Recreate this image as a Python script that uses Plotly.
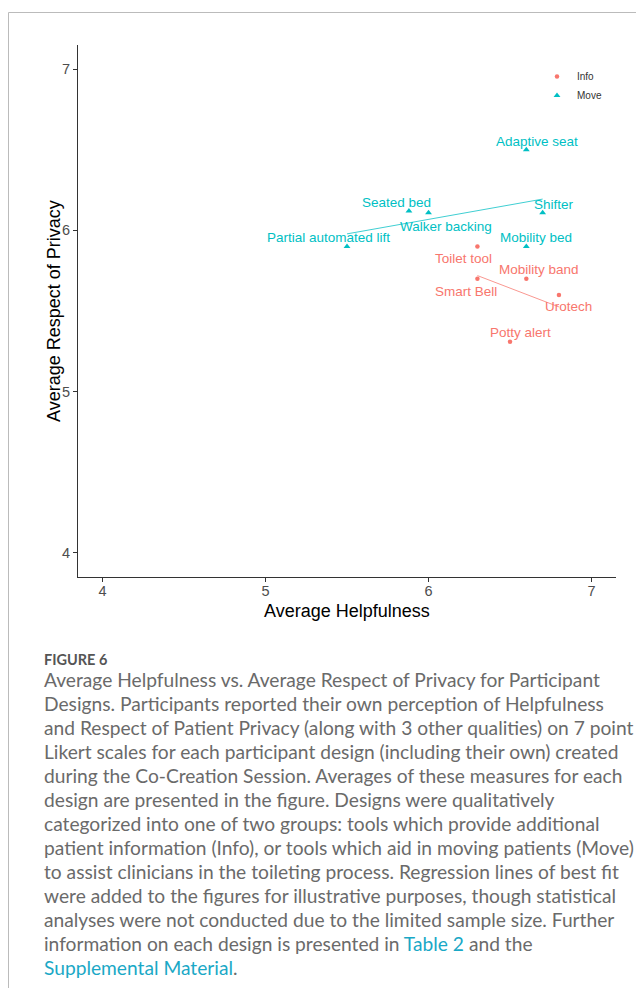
import numpy as np
import plotly.graph_objects as go

# ---------------- data ----------------
info_names = ["Toilet tool", "Smart Bell", "Mobility band", "Urotech", "Potty alert"]
info_help = [6.3, 6.3, 6.6, 6.8, 6.5]
info_priv = [5.9, 5.7, 5.7, 5.6, 5.31]

move_names = ["Adaptive seat", "Seated bed", "Walker backing", "Shifter",
              "Partial automated lift", "Mobility bed"]
move_help = [6.6, 5.88, 6.0, 6.7, 5.5, 6.6]
move_priv = [6.5, 6.12, 6.11, 6.11, 5.9, 5.9]

tick_vals = [4, 5, 6, 7]

# label offsets in pixels (dx right, dy up) – layout only
info_offsets = [(-14, -12), (-11, -13), (13, 9), (10, -12), (10, 9)]
move_offsets = [(11, 8), (-12, 9), (17, -14), (11, 8), (-19, 9), (10, 9)]

INFO_COL = "#F8766D"
MOVE_COL = "#00BFC4"

# page has an 8px body margin; figure is sized so that the page does not overflow
PAGE_OFF = 8
W, H = 644 - PAGE_OFF, 996 - 2 * PAGE_OFF
L_PAGE, T_PAGE, PW, PH = 78, 45, 538, 532
L, T = L_PAGE - PAGE_OFF, T_PAGE - PAGE_OFF


def px(xp):  # page pixel -> paper x
    return (xp - L_PAGE) / PW


def py(yp):  # page pixel -> paper y
    return 1 - (yp - T_PAGE) / PH


fig = go.Figure()

# regression lines
for hx, hy, col in [(info_help, info_priv, INFO_COL), (move_help, move_priv, MOVE_COL)]:
    slope, icpt = np.polyfit(hx, hy, 1)
    xs = np.array([min(hx), max(hx)])
    fig.add_trace(go.Scatter(x=xs, y=slope * xs + icpt, mode="lines",
                             line=dict(color=col, width=1), opacity=0.75,
                             showlegend=False, hoverinfo="skip"))

fig.add_trace(go.Scatter(x=info_help, y=info_priv, mode="markers", name="Info",
                         marker=dict(color=INFO_COL, size=4.5, symbol="circle"),
                         text=info_names))
fig.add_trace(go.Scatter(x=move_help, y=move_priv, mode="markers", name="Move",
                         marker=dict(color=MOVE_COL, size=6, symbol="triangle-up"),
                         text=move_names))

annotations = []
for names, xs, ys, offs, col in [(info_names, info_help, info_priv, info_offsets, INFO_COL),
                                  (move_names, move_help, move_priv, move_offsets, MOVE_COL)]:
    for n, xv, yv, (dx, dy) in zip(names, xs, ys, offs):
        annotations.append(dict(x=xv, y=yv, xref="x", yref="y", text=n, showarrow=False,
                                xshift=dx, yshift=dy,
                                font=dict(family="Liberation Sans, Arial", size=13.5, color=col)))

# axis titles
annotations.append(dict(x=0.5, y=py(611), xref="paper", yref="paper", text="Average Helpfulness",
                        showarrow=False, yanchor="middle",
                        font=dict(family="Liberation Sans, Arial", size=18, color="#000000")))
annotations.append(dict(x=px(54), y=py(311), xref="paper", yref="paper",
                        text="Average Respect of Privacy", textangle=-90,
                        showarrow=False, xanchor="center", yanchor="middle",
                        font=dict(family="Liberation Sans, Arial", size=18, color="#000000")))

# caption
cap_font = "Lato, Open Sans, sans-serif"
annotations.append(dict(x=px(42), y=py(659), xref="paper", yref="paper", text="<b>FIGURE 6</b>",
                        showarrow=False, xanchor="left", yanchor="middle",
                        font=dict(family=cap_font, size=14.5, color="#555555")))
LINK = "#1AA8C6"
caption_lines = [
    "Average Helpfulness vs. Average Respect of Privacy for Participant",
    "Designs. Participants reported their own perception of Helpfulness",
    "and Respect of Patient Privacy (along with 3 other qualities) on 7 point",
    "Likert scales for each participant design (including their own) created",
    "during the Co-Creation Session. Averages of these measures for each",
    "design are presented in the figure. Designs were qualitatively",
    "categorized into one of two groups: tools which provide additional",
    "patient information (Info), or tools which aid in moving patients (Move)",
    "to assist clinicians in the toileting process. Regression lines of best fit",
    "were added to the figures for illustrative purposes, though statistical",
    "analyses were not conducted due to the limited sample size. Further",
    f"information on each design is presented in <span style='color:{LINK}'>Table 2</span> and the",
    f"<span style='color:{LINK}'>Supplemental Material</span>.",
]
for i, line in enumerate(caption_lines):
    annotations.append(dict(x=px(42), y=py(679 + 24 * i), xref="paper", yref="paper", text=line,
                            showarrow=False, xanchor="left", yanchor="middle",
                            font=dict(family=cap_font, size=19.2, color="#6A6A6A")))

shapes = [
    dict(type="line", xref="paper", yref="paper", x0=px(8.5), x1=px(660), y0=py(12.5), y1=py(12.5),
         line=dict(color="#BBBBBB", width=1)),
    dict(type="line", xref="paper", yref="paper", x0=px(8.5), x1=px(8.5), y0=py(12.5), y1=py(1010),
         line=dict(color="#BBBBBB", width=1)),
]

axis_common = dict(range=[3.85, 7.15], tickvals=tick_vals, showgrid=False, zeroline=False,
                   showline=True, linecolor="#333333", linewidth=1,
                   ticks="outside", ticklen=4, tickcolor="#333333",
                   tickfont=dict(family="Liberation Sans, Arial", size=14.5, color="#4D4D4D"))

fig.update_layout(
    width=W, height=H,
    margin=dict(l=L, r=W - L - PW, t=T, b=H - T - PH),
    paper_bgcolor="white", plot_bgcolor="white",
    xaxis=dict(axis_common, ticklabelstandoff=-3),
    yaxis=axis_common,
    showlegend=True,
    legend=dict(x=px(537), y=py(62), xanchor="left", yanchor="top",
                bgcolor="rgba(0,0,0,0)", font=dict(family="Liberation Sans, Arial", size=10, color="#333333"),
                tracegroupgap=0),
    annotations=annotations, shapes=shapes,
)

fig.write_html("out.html")
